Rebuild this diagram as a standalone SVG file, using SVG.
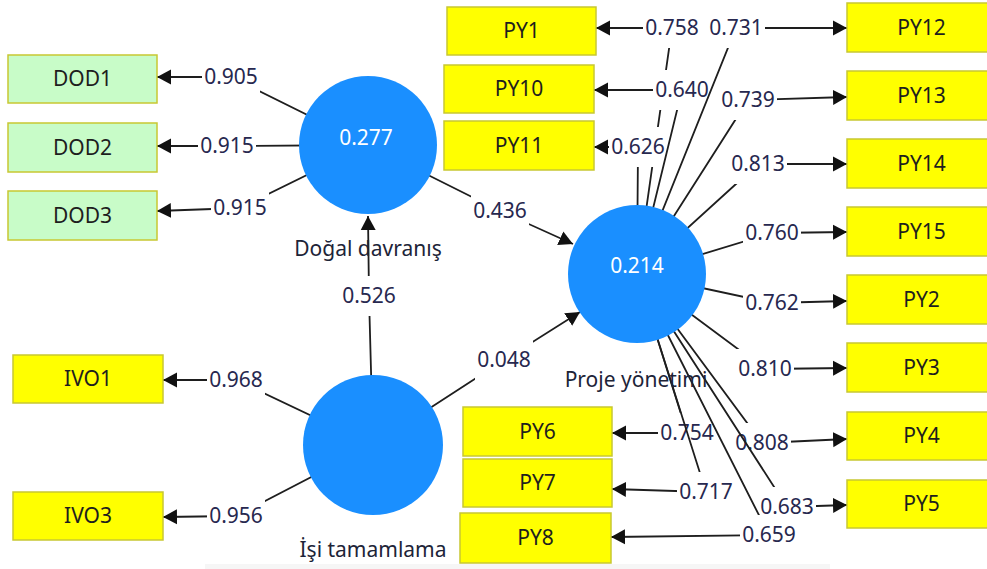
<svg xmlns="http://www.w3.org/2000/svg" width="987" height="569" viewBox="0 0 987 569">
  <defs>
    <marker id="head" markerUnits="userSpaceOnUse" markerWidth="15" markerHeight="18" refX="14" refY="9" orient="auto">
      <path d="M0,1.5 L14,9 L0,16.5 z" fill="#111"/>
    </marker>
    <style>
      text { font-family: "Noto Sans", "Open Sans", "Liberation Sans", sans-serif; font-size: 21px; }
      .box rect { fill: #ffff00; stroke: #c8c832; stroke-width: 1.5; }
      .box.green rect { fill: #c8fcc8; }
      .box text { fill: #1e1e1e; text-anchor: middle; }
      .lv circle { fill: #1a8fff; }
      .lv .val { fill: #ffffff; text-anchor: middle; }
      .lv .name { fill: #1d2438; text-anchor: middle; }
      .conn path { fill: none; stroke: #1e1e1e; stroke-width: 1.8; marker-end: url(#head); }
      .conn rect { fill: #ffffff; }
      .conn text { fill: #27284f; text-anchor: middle; }
    </style>
  </defs>

  <rect width="987" height="569" fill="#ffffff"/>
  <rect x="205" y="564" width="625" height="5" fill="#f6f6f6"/>

  <!-- connectors: path, label backing, coefficient -->
  <g id="connectors" class="conn">
    <!-- Doğal davranış indicators -->
    <path d="M368,145 L231,77 L157,77"/>
    <rect x="202" y="57" width="58" height="40"/><text x="231" y="84">0.905</text>
    <path d="M368,145 L227,146 L157,146"/>
    <rect x="198" y="126" width="58" height="40"/><text x="227" y="153">0.915</text>
    <path d="M368,145 L240,208 L157,211"/>
    <rect x="211" y="188" width="58" height="40"/><text x="240" y="215">0.915</text>

    <!-- İşi tamamlama indicators -->
    <path d="M373,445 L236,380 L163,380"/>
    <rect x="207" y="360" width="58" height="40"/><text x="236" y="387">0.968</text>
    <path d="M373,445 L236,516 L163,517"/>
    <rect x="207" y="496" width="58" height="40"/><text x="236" y="523">0.956</text>

    <!-- structural paths -->
    <path d="M373,445 L369,296 L368,216"/>
    <rect x="340" y="276" width="58" height="40"/><text x="369" y="303">0.526</text>
    <path d="M368,145 L500,211 L573,244"/>
    <rect x="471" y="191" width="58" height="40"/><text x="500" y="218">0.436</text>
    <path d="M373,445 L504,360 L580,312"/>
    <rect x="475" y="340" width="58" height="40"/><text x="504" y="367">0.048</text>

    <!-- Proje yönetimi indicators -->
    <path d="M637,274 L672,28 L596,28"/>
    <rect x="643" y="8" width="58" height="40"/><text x="672" y="35">0.758</text>
    <path d="M637,274 L638,147 L594,147"/>
    <rect x="609" y="127" width="58" height="40"/><text x="638" y="154">0.626</text>
    <path d="M637,274 L682,90 L594,90"/>
    <rect x="653" y="70" width="58" height="40"/><text x="682" y="97">0.640</text>
    <path d="M637,274 L736,28 L847,28"/>
    <rect x="707" y="8" width="58" height="40"/><text x="736" y="35">0.731</text>
    <path d="M637,274 L748,100 L847,97"/>
    <rect x="719" y="80" width="58" height="40"/><text x="748" y="107">0.739</text>
    <path d="M637,274 L758,164 L847,164"/>
    <rect x="729" y="144" width="58" height="40"/><text x="758" y="171">0.813</text>
    <path d="M637,274 L772,233 L847,232"/>
    <rect x="743" y="213" width="58" height="40"/><text x="772" y="240">0.760</text>
    <path d="M637,274 L772,303 L847,301"/>
    <rect x="743" y="283" width="58" height="40"/><text x="772" y="310">0.762</text>
    <path d="M637,274 L765,369 L847,368"/>
    <rect x="736" y="349" width="58" height="40"/><text x="765" y="376">0.810</text>
    <path d="M637,274 L762,443 L847,439"/>
    <rect x="733" y="423" width="58" height="40"/><text x="762" y="450">0.808</text>
    <path d="M637,274 L787,507 L847,505"/>
    <rect x="758" y="487" width="58" height="40"/><text x="787" y="514">0.683</text>
    <path d="M637,274 L687,433 L612,433"/>
    <rect x="658" y="413" width="58" height="40"/><text x="687" y="440">0.754</text>
    <path d="M637,274 L706,492 L612,489"/>
    <rect x="677" y="472" width="58" height="40"/><text x="706" y="499">0.717</text>
    <path d="M637,274 L769,535 L611,537"/>
    <rect x="740" y="515" width="58" height="40"/><text x="769" y="542">0.659</text>
  </g>

  <!-- latent variables -->
  <g id="dogal-davranis" class="lv">
    <circle cx="368" cy="145" r="69"/>
    <text class="val" x="366" y="145">0.277</text>
    <text class="name" x="368" y="256">Doğal davranış</text>
  </g>
  <g id="isi-tamamlama" class="lv">
    <circle cx="373" cy="445" r="70"/>
    <text class="name" x="373" y="557">İşi tamamlama</text>
  </g>
  <g id="proje-yonetimi" class="lv">
    <circle cx="637" cy="274" r="69"/>
    <text class="val" x="637" y="273">0.214</text>
    <text class="name" x="636" y="387">Proje yönetimi</text>
  </g>

  <!-- indicators -->
  <g id="DOD1" class="box green"><rect x="8" y="55" width="149" height="48"/><text x="82.5" y="86">DOD1</text></g>
  <g id="DOD2" class="box green"><rect x="8" y="123" width="149" height="49"/><text x="82.5" y="155">DOD2</text></g>
  <g id="DOD3" class="box green"><rect x="8" y="191" width="149" height="49"/><text x="82.5" y="223">DOD3</text></g>
  <g id="IVO1" class="box"><rect x="13" y="355" width="150" height="48"/><text x="88" y="386">IVO1</text></g>
  <g id="IVO3" class="box"><rect x="13" y="492" width="150" height="48"/><text x="88" y="523">IVO3</text></g>

  <g id="PY1" class="box"><rect x="447" y="7" width="149" height="48"/><text x="521.5" y="38">PY1</text></g>
  <g id="PY10" class="box"><rect x="444" y="65" width="150" height="48"/><text x="519" y="96">PY10</text></g>
  <g id="PY11" class="box"><rect x="444" y="121" width="150" height="49"/><text x="519" y="153">PY11</text></g>
  <g id="PY6" class="box"><rect x="463" y="407" width="149" height="49"/><text x="537.5" y="439">PY6</text></g>
  <g id="PY7" class="box"><rect x="463" y="459" width="149" height="48"/><text x="537.5" y="490">PY7</text></g>
  <g id="PY8" class="box"><rect x="460" y="513" width="151" height="50"/><text x="535.5" y="545">PY8</text></g>

  <g id="PY12" class="box"><rect x="847" y="3" width="149" height="49"/><text x="921.5" y="35">PY12</text></g>
  <g id="PY13" class="box"><rect x="847" y="71" width="149" height="49"/><text x="921.5" y="103">PY13</text></g>
  <g id="PY14" class="box"><rect x="847" y="139" width="149" height="49"/><text x="921.5" y="171">PY14</text></g>
  <g id="PY15" class="box"><rect x="847" y="207" width="149" height="49"/><text x="921.5" y="239">PY15</text></g>
  <g id="PY2" class="box"><rect x="847" y="275" width="149" height="49"/><text x="921.5" y="307">PY2</text></g>
  <g id="PY3" class="box"><rect x="847" y="343" width="149" height="49"/><text x="921.5" y="375">PY3</text></g>
  <g id="PY4" class="box"><rect x="847" y="412" width="149" height="48"/><text x="921.5" y="443">PY4</text></g>
  <g id="PY5" class="box"><rect x="847" y="480" width="149" height="48"/><text x="921.5" y="511">PY5</text></g>
</svg>
